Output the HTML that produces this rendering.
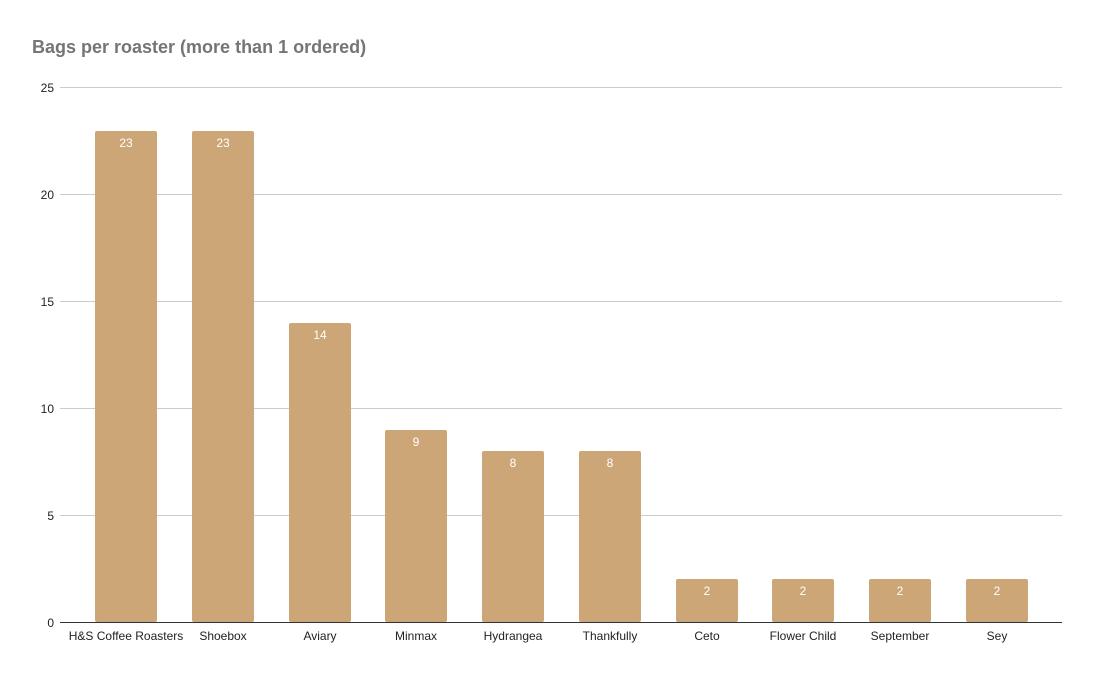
<!DOCTYPE html>
<html><head><style>body{margin:0;background:#fff}</style></head><body>
<svg width="1096" height="677" xmlns="http://www.w3.org/2000/svg" font-family="Liberation Sans, Arial, sans-serif">
<rect width="1096" height="677" fill="#fff"/>
<text x="32" y="53" font-size="18" font-weight="bold" fill="#757575">Bags per roaster (more than 1 ordered)</text>
<g stroke="#ccc" stroke-width="1">
<line x1="60" x2="1062" y1="87.5" y2="87.5"/>
<line x1="60" x2="1062" y1="194.5" y2="194.5"/>
<line x1="60" x2="1062" y1="301.5" y2="301.5"/>
<line x1="60" x2="1062" y1="408.5" y2="408.5"/>
<line x1="60" x2="1062" y1="515.5" y2="515.5"/>
</g>
<g font-size="12" fill="#222" text-anchor="end">
<text x="54" y="92">25</text><text x="54" y="199">20</text><text x="54" y="306">15</text>
<text x="54" y="413">10</text><text x="54" y="520">5</text><text x="54" y="627">0</text>
</g>
<g fill="#cca677">
<rect x="95" y="131" width="62" height="491" rx="2"/>
<rect x="192" y="131" width="62" height="491" rx="2"/>
<rect x="289" y="323" width="62" height="299" rx="2"/>
<rect x="385" y="430" width="62" height="192" rx="2"/>
<rect x="482" y="451" width="62" height="171" rx="2"/>
<rect x="579" y="451" width="62" height="171" rx="2"/>
<rect x="676" y="579" width="62" height="43" rx="2"/>
<rect x="772" y="579" width="62" height="43" rx="2"/>
<rect x="869" y="579" width="62" height="43" rx="2"/>
<rect x="966" y="579" width="62" height="43" rx="2"/>
</g>
<line x1="60" x2="1062" y1="622.5" y2="622.5" stroke="#333"/>
<g font-size="12" fill="#fff" text-anchor="middle">
<text x="126" y="147">23</text><text x="223" y="147">23</text><text x="320" y="339">14</text>
<text x="416" y="446">9</text><text x="513" y="467">8</text><text x="610" y="467">8</text>
<text x="707" y="595">2</text><text x="803" y="595">2</text><text x="900" y="595">2</text><text x="997" y="595">2</text>
</g>
<g font-size="12" fill="#222" text-anchor="middle">
<text x="126" y="640">H&amp;S Coffee Roasters</text><text x="223" y="640">Shoebox</text>
<text x="320" y="640">Aviary</text><text x="416" y="640">Minmax</text>
<text x="513" y="640">Hydrangea</text><text x="610" y="640">Thankfully</text>
<text x="707" y="640">Ceto</text><text x="803" y="640">Flower Child</text>
<text x="900" y="640">September</text><text x="997" y="640">Sey</text>
</g>
</svg>
</body></html>
